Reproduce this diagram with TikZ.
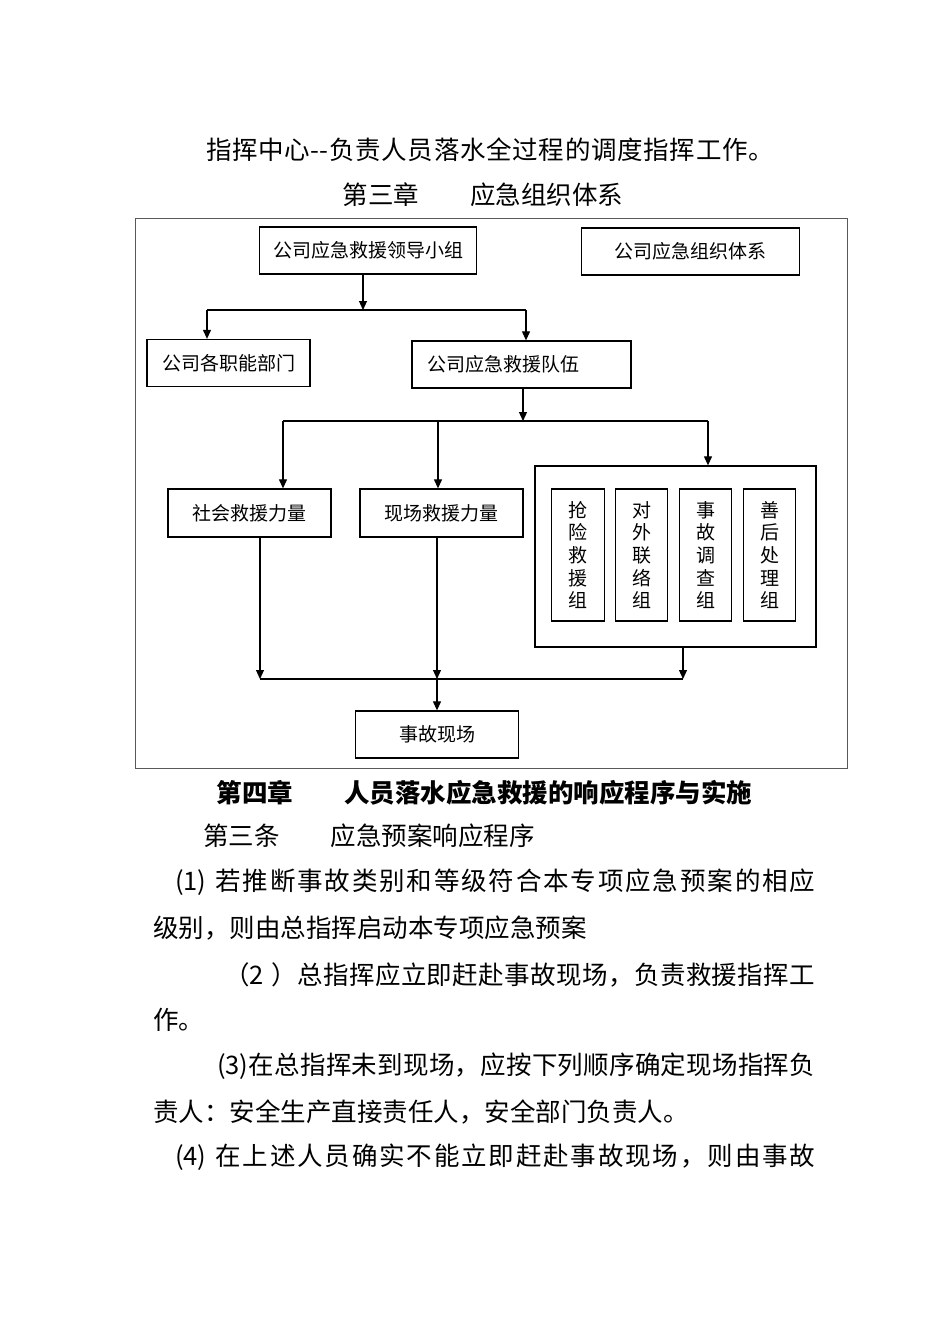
\documentclass[tikz,border=0pt]{standalone}
\usepackage{fontspec}
\setmainfont{Noto Sans CJK SC}
\usetikzlibrary{positioning,arrows.meta}
% glue between CJK characters so lines can be spread to full width
\newcount\cjkc
\cjkc="4E00
\loop \XeTeXcharclass\cjkc=7 \advance\cjkc by 1 \ifnum\cjkc<"A000 \repeat
\XeTeXcharclass`，=8 \XeTeXcharclass`。=8 \XeTeXcharclass`：=8
\XeTeXcharclass`（=9 \XeTeXcharclass`）=8
\XeTeXinterchartokenstate=1
\newcommand{\cjkfill}{\hskip0pt plus 1em minus 0.15em\relax}
\XeTeXinterchartoks 7 7 = {\cjkfill}
\XeTeXinterchartoks 7 8 = {\cjkfill}
\XeTeXinterchartoks 8 7 = {\cjkfill}
\XeTeXinterchartoks 0 7 = {\cjkfill}
\XeTeXinterchartoks 7 0 = {\cjkfill}
\XeTeXinterchartoks 8 9 = {\cjkfill}
\newcommand{\bodysize}{\fontsize{25.5}{30}\selectfont}
\newcommand{\boxsize}{\fontsize{19}{22.7}\selectfont}
\newcommand{\spreadline}[2]{\makebox[#1][s]{#2}}

\begin{document}
\begin{tikzpicture}[x=1pt,y=-1pt,
    box/.style={draw, line width=1.3pt, inner sep=0pt, minimum height=47pt, font=\boxsize},
    vbox/.style={draw, line width=1.3pt, inner sep=0pt, minimum width=52.5pt, minimum height=132pt, align=center, font=\boxsize},
    arr/.style={-{Triangle[length=9pt,width=8pt]}, line width=1.1pt},
    link/.style={line width=1.1pt},
    txt/.style={anchor=west, inner sep=0pt, font=\bodysize}]
    \useasboundingbox (0,0) rectangle (950,1344);
    % page text above the chart
    \node[font=\bodysize, inner sep=0pt] (intro) at (490,150) {\spreadline{568pt}{指挥中心-{}-负责人员落水全过程的调度指挥工作。}};
    \node[font=\bodysize, inner sep=0pt] (chap3) at (483,195) {第三章\hspace{2em}应急组织体系};
    % chart frame
    \draw[gray!70!black, line width=0.8pt] (135,218) rectangle (847,768);
    % boxes
    \node[box, minimum width=217pt] (lead) at (368,250.5) {公司应急救援领导小组};
    \node[box, minimum width=218pt] (sys) at (690.5,251.5) {公司应急组织体系};
    \node[box, minimum width=163pt] (dept) at (228.5,363) {公司各职能部门};
    \node[box, text width=189pt, align=left, inner xsep=15pt] (team) at (521.5,364.5) {公司应急救援队伍};
    \node[box, minimum width=163pt, minimum height=48pt] (social) at (249.5,513) {社会救援力量};
    \node[box, minimum width=163pt, minimum height=48pt] (scene) at (441.5,513) {现场救援力量};
    \node[draw, line width=1.3pt, minimum width=281pt, minimum height=181pt] (grp) at (675.5,556.5) {};
    \foreach \x/\name/\txt in {578/g1/抢\\险\\救\\援\\组, 641.5/g2/对\\外\\联\\络\\组, 705.5/g3/事\\故\\调\\查\\组, 769.5/g4/善\\后\\处\\理\\组}{
        \node[vbox] (\name) at (\x,555) {\txt};}
    \node[box, minimum width=163.5pt] (accident) at (437,734.5) {事故现场};
    % split below the leading group
    \coordinate (s1) at (363,310);
    \coordinate (s1l) at (207,310);
    \coordinate (s1r) at (526,310);
    \draw[arr] (lead.south -| s1) -- (s1);
    \draw[link] (s1l) -- (s1r);
    \draw[arr] (s1l) -- (s1l |- dept.north);
    \draw[arr] (s1r) -- (s1r |- team.north);
    % split below the team
    \coordinate (s2) at (523,421);
    \coordinate (s2l) at (283,421);
    \coordinate (s2m) at (438,421);
    \coordinate (s2r) at (708,421);
    \draw[arr] (team.south -| s2) -- (s2);
    \draw[link] (s2l) -- (s2r);
    \draw[arr] (s2l) -- (s2l |- social.north);
    \draw[arr] (s2m) -- (s2m |- scene.north);
    \draw[arr] (s2r) -- (s2r |- grp.north);
    % merge into the accident site
    \coordinate (ml) at (260,679);
    \coordinate (mm) at (437,679);
    \coordinate (mr) at (683,679);
    \draw[arr] (social.south -| ml) -- (ml);
    \draw[arr] (scene.south -| mm) -- (mm);
    \draw[arr] (grp.south -| mr) -- (mr);
    \draw[link] (ml) -- (mr);
    \draw[arr] (mm) -- (mm |- accident.north);
    % page text below the chart
    \node[font=\bodysize\bfseries, inner sep=0pt] (chap4) at (484.5,793) {第四章\hspace{2em}人员落水应急救援的响应程序与实施};
    \node[txt] (art3) at (203,836) {第三条\hspace{2em}应急预案响应程序};
    \node[txt] (p1a) at (175,882) {\spreadline{640pt}{(1)\hspace{0.35em}若推断事故类别和等级符合本专项应急预案的相应}};
    \node[txt] (p1b) at (153,928) {级别，则由总指挥启动本专项应急预案};
    \node[txt] (p2a) at (224,975) {\spreadline{591pt}{（2\hspace{0.3em}）总指挥应立即赶赴事故现场，负责救援指挥工}};
    \node[txt] (p2b) at (153,1020) {作。};
    \node[txt] (p3a) at (217,1066) {\spreadline{598pt}{(3)在总指挥未到现场，应按下列顺序确定现场指挥负}};
    \node[txt] (p3b) at (153,1112) {责人：安全生产直接责任人，安全部门负责人。};
    \node[txt] (p4a) at (175,1157) {\spreadline{640pt}{(4)\hspace{0.35em}在上述人员确实不能立即赶赴事故现场，则由事故}};
\end{tikzpicture}
\end{document}
